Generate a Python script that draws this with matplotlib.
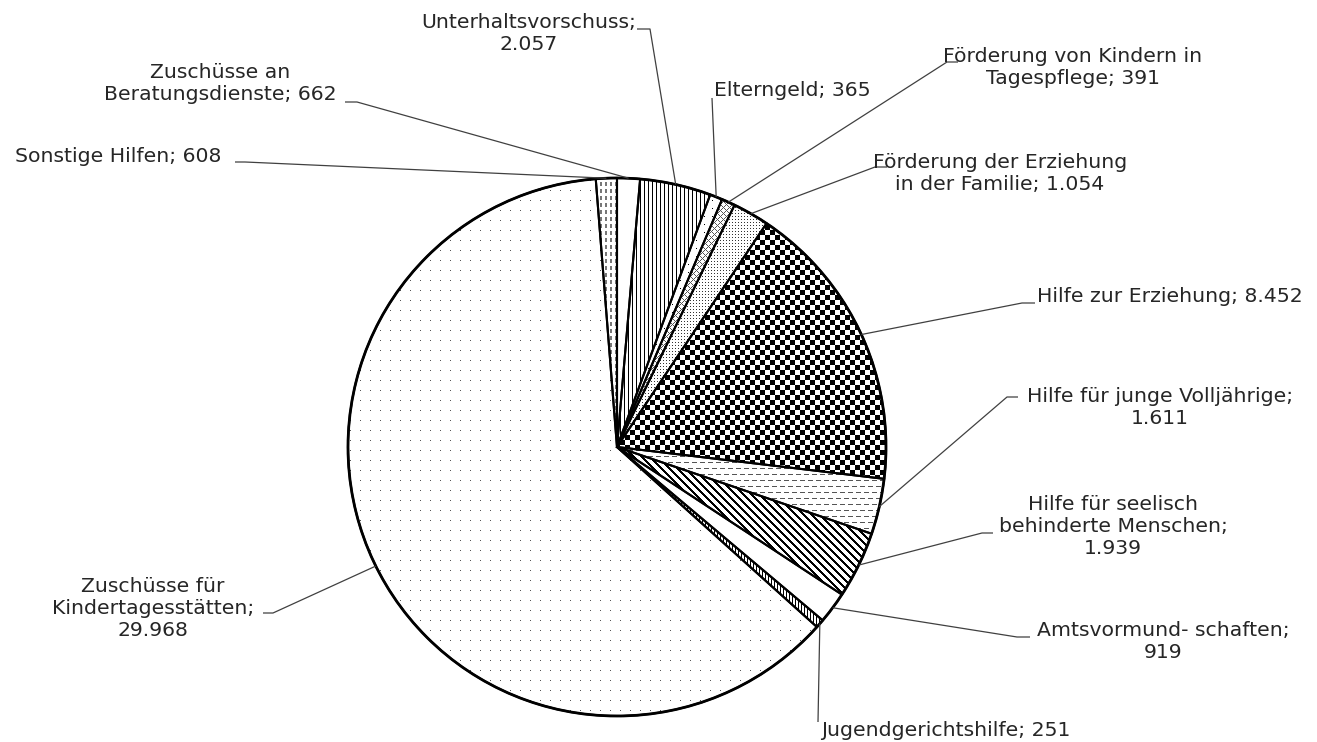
import numpy as np
import matplotlib
matplotlib.use("Agg")
import matplotlib.pyplot as plt
from matplotlib.colors import to_rgb

# Ausgaben der Kinder- und Jugendhilfe (Mio. Euro)
names = [
    "Zuschüsse an\nBeratungsdienste",
    "Unterhaltsvorschuss",
    "Elterngeld",
    "Förderung von Kindern in\nTagespflege",
    "Förderung der Erziehung\nin der Familie",
    "Hilfe zur Erziehung",
    "Hilfe für junge Volljährige",
    "Hilfe für seelisch\nbehinderte Menschen",
    "Amtsvormund- schaften",
    "Jugendgerichtshilfe",
    "Zuschüsse für\nKindertagesstätten",
    "Sonstige Hilfen",
]
values = [662, 2057, 365, 391, 1054, 8452, 1611, 1939, 919, 251, 29968, 608]
# separator between name and value in each label
separators = [" ", "\n", " ", " ", " ", " ", "\n", "\n", "\n", " ", "\n", " "]

W, H = 1317, 742
CX, CY, R = 617, 447, 269


def fmt_de(v):
    return f"{v:,}".replace(",", ".")


fig = plt.figure(figsize=(W / 100, H / 100), dpi=100)
fig.patch.set_facecolor("white")
ax = fig.add_axes([0, 0, 1, 1])

wedges, _ = ax.pie(
    values,
    startangle=90,
    counterclock=False,
    center=(CX, H - CY),
    radius=R,
    wedgeprops=dict(facecolor="none", edgecolor="black", linewidth=1.5),
)
ax.set_xlim(0, W)
ax.set_ylim(0, H)
ax.set_aspect("equal")
ax.set_axis_off()

# pixel-grid fill textures (row 0 = top of figure)
yy, xx = np.mgrid[0:H, 0:W]


def texture(mask, color):
    img = np.full((H, W, 3), 255, dtype=np.uint8)
    img[mask] = (np.array(to_rgb(color)) * 255).astype(np.uint8)
    return img


textures = [
    None,                                                            # Beratungsdienste
    texture(xx % 4 == 0, "black"),                                   # Unterhaltsvorschuss
    texture((xx % 8 == 0) & (yy % 8 == 0), "black"),                 # Elterngeld
    texture(((xx + yy) % 6 == 0) | ((xx - yy) % 6 == 0), "#555555"),  # Tagespflege
    texture((xx % 3 == 0) & (yy % 3 == 0), "#333333"),               # Erziehung in der Familie
    texture(((xx // 5) + (yy // 5)) % 2 == 0, "black"),              # Hilfe zur Erziehung
    texture((yy % 6 == 0) & ((xx + 4 * ((yy // 6) % 2)) % 8 < 5), "#555555"),  # junge Volljährige
    texture((xx - yy) % 8 < 3, "black"),                             # seelisch behinderte
    None,                                                            # Amtsvormundschaften
    texture(xx % 3 == 0, "black"),                                   # Jugendgerichtshilfe
    texture((xx % 10 == 0) & (yy % 10 == 0), "#555555"),             # Kindertagesstätten
    texture((xx % 5 < 2) & (yy % 7 < 4), "#777777"),                 # Sonstige Hilfen
]

for w, tex in zip(wedges, textures):
    w.set_zorder(2)
    if tex is None:
        continue
    im = ax.imshow(tex, extent=(0, W, 0, H), origin="upper",
                   interpolation="nearest", zorder=1, aspect="auto")
    im.set_clip_path(w)

# outer rim
rim = plt.Circle((CX, H - CY), R, facecolor="none", edgecolor="black", linewidth=2.0, zorder=3)
ax.add_patch(rim)

# label layout: text anchor (pixel), alignment, leader elbow points (pixel)
layout = [
    dict(xy=(220, 83), ha="center", elbow=[(357, 102), (345, 102)]),
    dict(xy=(529, 34), ha="center", elbow=[(650, 29), (637, 29)]),
    dict(xy=(714, 90), ha="left", elbow=[(712, 98)]),
    dict(xy=(1073, 68), ha="center", elbow=[(947, 62), (958, 62)]),
    dict(xy=(1000, 173), ha="center", elbow=[(875, 167), (887, 167)]),
    dict(xy=(1037, 297), ha="left", elbow=[(1022, 303), (1035, 303)]),
    dict(xy=(1160, 407), ha="center", elbow=[(1007, 397), (1018, 397)]),
    dict(xy=(1113, 527), ha="center", elbow=[(982, 533), (993, 533)]),
    dict(xy=(1163, 642), ha="center", elbow=[(1017, 637), (1030, 637)]),
    dict(xy=(946, 731), ha="center", elbow=[(818, 722)]),
    dict(xy=(153, 608), ha="center", elbow=[(273, 613), (263, 613)]),
    dict(xy=(15, 157), ha="left", elbow=[(245, 162), (235, 162)]),
]

text_color = "#262626"
line_color = "#404040"
for w, name, v, sep, lay in zip(wedges, names, values, separators, layout):
    label = f"{name};{sep}{fmt_de(v)}"
    x, y = lay["xy"]
    ax.text(x, H - y, label, ha=lay["ha"], va="center", multialignment="center",
            fontsize=14.7, color=text_color, family="DejaVu Sans", linespacing=1.2, zorder=5)
    mid = np.deg2rad((w.theta1 + w.theta2) / 2)
    px = CX + R * np.cos(mid)
    py = (H - CY) + R * np.sin(mid)
    xs = [px] + [p[0] for p in lay["elbow"]]
    ys = [py] + [H - p[1] for p in lay["elbow"]]
    ax.plot(xs, ys, color=line_color, linewidth=0.9, zorder=4, solid_capstyle="butt")

fig.savefig("out.png", dpi=100, facecolor="white")
